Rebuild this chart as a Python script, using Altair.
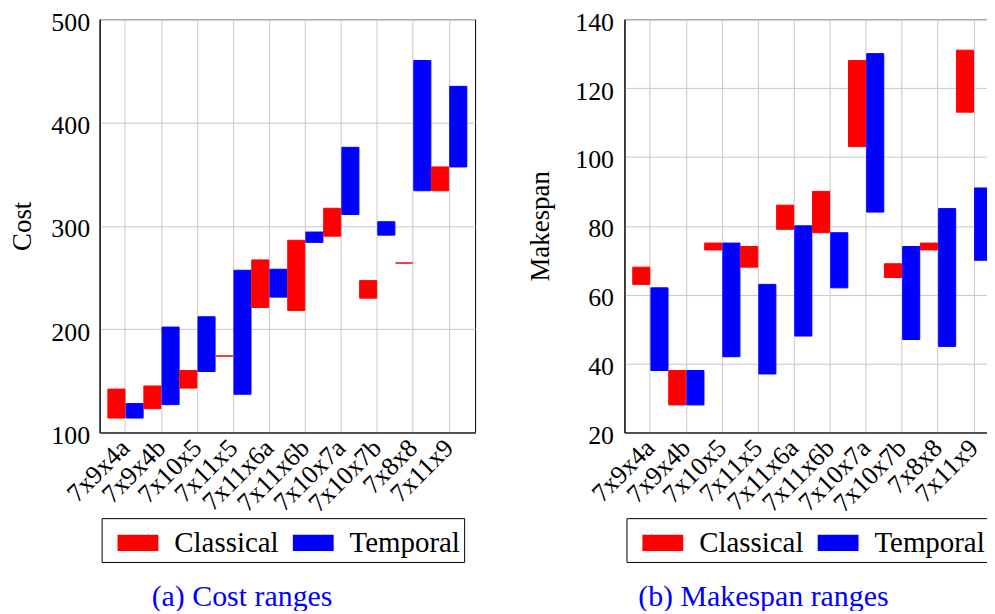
import altair as alt
import pandas as pd

instances = ["7x9x4a", "7x9x4b", "7x10x5", "7x11x5", "7x11x6a",
             "7x11x6b", "7x10x7a", "7x10x7b", "7x8x8", "7x11x9"]
series = ["Classical", "Temporal"]
series_colors = ["#ff0000", "#0000ff"]

cost_classical_min = [114, 123, 143, 174, 221, 218, 290, 230, 264, 334]
cost_classical_max = [142, 145, 160, 174, 267, 286, 317, 247, 264, 357]
cost_temporal_min = [114, 127, 159, 137, 231, 284, 311, 291, 334, 357]
cost_temporal_max = [128, 202, 212, 257, 258, 294, 376, 304, 460, 435]

mk_classical_min = [63, 28, 73, 68, 79, 78, 103, 65, 73, 113]
mk_classical_max = [68, 38, 75, 74, 86, 90, 128, 69, 75, 131]
mk_temporal_min = [38, 28, 42, 37, 48, 62, 84, 47, 45, 70]
mk_temporal_max = [62, 38, 75, 63, 80, 78, 130, 74, 85, 91]

cost_ticks = [100, 200, 300, 400, 500]
mk_ticks = [20, 40, 60, 80, 100, 120, 140]

FONT = "'Liberation Serif', 'DejaVu Serif', serif"


def frame(cmin, cmax, tmin, tmax):
    rows = []
    for i, inst in enumerate(instances):
        rows.append({"instance": inst, "series": "Classical", "lo": cmin[i], "hi": cmax[i]})
        rows.append({"instance": inst, "series": "Temporal", "lo": tmin[i], "hi": tmax[i]})
    return pd.DataFrame(rows)


def panel(df, ytitle, ydomain, yticks, caption, tpad, lpad):
    cscale = alt.Scale(domain=series, range=series_colors)
    return alt.Chart(df).mark_bar(strokeWidth=1, opacity=1).encode(
        x=alt.X("instance:N", sort=instances,
                scale=alt.Scale(paddingInner=0, paddingOuter=0.22),
                axis=alt.Axis(title=None, labelAngle=-45, labelAlign="right",
                              labelBaseline="middle", labelPadding=11,
                              labelFont=FONT, labelFontSize=26, labelColor="black",
                              labelOverlap=False, grid=True, bandPosition=0.5,
                              ticks=False, gridColor="#c8c8c8", domainColor="black")),
        xOffset=alt.XOffset("series:N", sort=series,
                            scale=alt.Scale(paddingInner=0.06, paddingOuter=0.02)),
        y=alt.Y("lo:Q", scale=alt.Scale(domain=ydomain, nice=False, zero=False),
                axis=alt.Axis(title=ytitle, values=yticks, ticks=False,
                              labelPadding=lpad, labelOffset=3, labelFont=FONT,
                              labelFontSize=26, labelColor="black", titleFont=FONT,
                              titleFontSize=27, titleFontWeight="normal",
                              titleColor="black", titlePadding=tpad,
                              gridColor="#c8c8c8", domainColor="black")),
        y2="hi:Q",
        color=alt.Color("series:N", scale=cscale,
                        legend=alt.Legend(title=None, orient="none", legendX=2, legendY=501,
                                          direction="horizontal", strokeColor="black",
                                          fillColor="white", padding=4, symbolOffset=12,
                                          symbolType="M-1,-0.4H1V0.4H-1Z", symbolSize=1681,
                                          symbolStrokeWidth=0, labelFont=FONT,
                                          labelFontSize=29, labelColor="black",
                                          labelOffset=16, columnPadding=2,
                                          labelExpr="datum.label == 'Temporal' ? datum.label + '\u2005' : datum.label")),
        stroke=alt.Stroke("series:N", scale=cscale, legend=None),
    ).properties(
        width=377, height=415,
        title=alt.TitleParams(text=caption, orient="bottom", anchor="middle",
                              frame="bounds", font=FONT, fontSize=30,
                              fontWeight="normal", color="#0000ff", offset=20),
    )


left = panel(frame(cost_classical_min, cost_classical_max, cost_temporal_min, cost_temporal_max),
             "Cost", [100, 500], cost_ticks, "(a) Cost ranges", 14, 10)
right = panel(frame(mk_classical_min, mk_classical_max, mk_temporal_min, mk_temporal_max),
              "Makespan", [20, 140], mk_ticks, "(b) Makespan ranges", 20, 11)

chart = alt.hconcat(left, right, spacing=50).resolve_legend(
    color="independent"
).properties(
    padding={"left": 0, "top": -1, "right": -14, "bottom": -3}
).configure(background="white", font=FONT).configure_view(stroke="black", strokeWidth=1)

chart.save("out.html", embed_options={"renderer": "svg", "actions": False})
